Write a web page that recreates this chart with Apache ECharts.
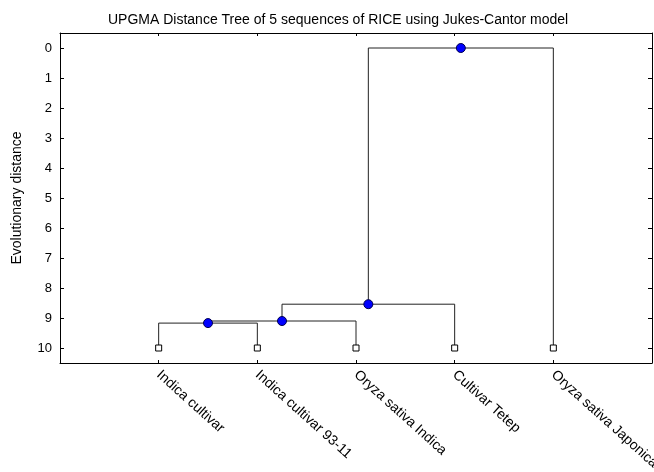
<!DOCTYPE html>
<html>
<head>
<meta charset="utf-8">
<script src="https://cdn.jsdelivr.net/npm/echarts@6/dist/echarts.min.js"></script>
<style>
  html, body { margin: 0; padding: 0; background: #fff; }
  #chart { width: 654px; height: 472px; }
</style>
</head>
<body>
<div id="chart"></div>
<script>
// leaves, left to right
var leafNames = ['Indica cultivar', 'Indica cultivar 93-11', 'Oryza sativa Indica', 'Cultivar Tetep', 'Oryza sativa Japonica'];
var leafX = [1, 2, 3, 4, 5];
var leafHeight = 10;

// merges: children are leaf index (0..4) or 'n' + merge index
var mergeLeft = [0, 'n0', 'n1', 'n2'];
var mergeRight = [1, 2, 3, 4];
var mergeHeight = [9.17, 9.10, 8.54, 0];

var yTicks = [0, 1, 2, 3, 4, 5, 6, 7, 8, 9, 10];

// dendrogram layout: each merge sits midway between its children
var nodeX = [];
function childPos(c) {
  if (typeof c === 'number') return [leafX[c], leafHeight];
  var i = +c.slice(1);
  return [nodeX[i], mergeHeight[i]];
}
var branches = [];
var nodes = [];
for (var i = 0; i < mergeHeight.length; i++) {
  var l = childPos(mergeLeft[i]);
  var r = childPos(mergeRight[i]);
  nodeX[i] = (l[0] + r[0]) / 2;
  branches.push({ coords: [l, [l[0], mergeHeight[i]], [r[0], mergeHeight[i]], r] });
  nodes.push([nodeX[i], mergeHeight[i]]);
}
var leaves = leafX.map(function (x) { return [x, leafHeight]; });

var font = 'Liberation Sans, Arial, sans-serif';
var chart = echarts.init(document.getElementById('chart'));
chart.setOption({
  backgroundColor: '#fff',
  animation: false,
  title: {
    text: 'UPGMA Distance Tree of 5 sequences of RICE using Jukes-Cantor model',
    left: 103,
    top: 8,
    textStyle: { fontFamily: font, fontSize: 14, fontWeight: 'normal', color: '#000' }
  },
  grid: { left: 60, right: 2, top: 33, bottom: 109, outerBoundsMode: 'none', containLabel: false },
  xAxis: [{
    type: 'value', position: 'bottom', min: 0, max: 6, interval: 1,
    splitLine: { show: false },
    axisLine: { onZero: false, lineStyle: { color: '#000', width: 1 } },
    axisTick: { inside: true, length: 3, lineStyle: { color: '#000' } },
    axisLabel: {
      rotate: -42, margin: 10, fontFamily: font, fontSize: 14, color: '#000',
      formatter: function (v) { return leafNames[v - 1] || ''; }
    }
  }, {
    type: 'value', position: 'top', min: 0, max: 6, interval: 1,
    splitLine: { show: false },
    axisLine: { onZero: false, lineStyle: { color: '#000', width: 1 } },
    axisTick: { inside: true, length: 3, lineStyle: { color: '#000' } },
    axisLabel: { show: false }
  }],
  yAxis: [{
    type: 'value', inverse: true, min: -0.5, max: 10.5,
    name: 'Evolutionary distance', nameLocation: 'middle', nameGap: 36,
    nameTextStyle: { fontFamily: font, fontSize: 14, color: '#000' },
    splitLine: { show: false },
    axisLine: { onZero: false, lineStyle: { color: '#000', width: 1 } },
    axisTick: { inside: true, length: 4, lineStyle: { color: '#000' }, customValues: yTicks },
    axisLabel: {
      margin: 8, fontFamily: font, fontSize: 13, color: '#000',
      customValues: yTicks
    }
  }, {
    type: 'value', inverse: true, min: -0.5, max: 10.5, position: 'right',
    splitLine: { show: false },
    axisLine: { onZero: false, lineStyle: { color: '#000', width: 1 } },
    axisTick: { inside: true, length: 4, lineStyle: { color: '#000' }, customValues: yTicks },
    axisLabel: { show: false }
  }],
  series: [{
    type: 'lines',
    coordinateSystem: 'cartesian2d',
    polyline: true,
    silent: true,
    lineStyle: { color: '#222', width: 1, opacity: 1 },
    data: branches,
    z: 2
  }, {
    type: 'scatter',
    symbol: 'rect',
    symbolSize: 6,
    itemStyle: { color: '#fff', borderColor: '#000', borderWidth: 1, opacity: 1 },
    data: leaves,
    z: 3
  }, {
    type: 'scatter',
    symbol: 'circle',
    symbolSize: 9,
    itemStyle: { color: '#0000ff', borderColor: '#000050', borderWidth: 1, opacity: 1 },
    data: nodes,
    z: 4
  }]
});
</script>
</body>
</html>
